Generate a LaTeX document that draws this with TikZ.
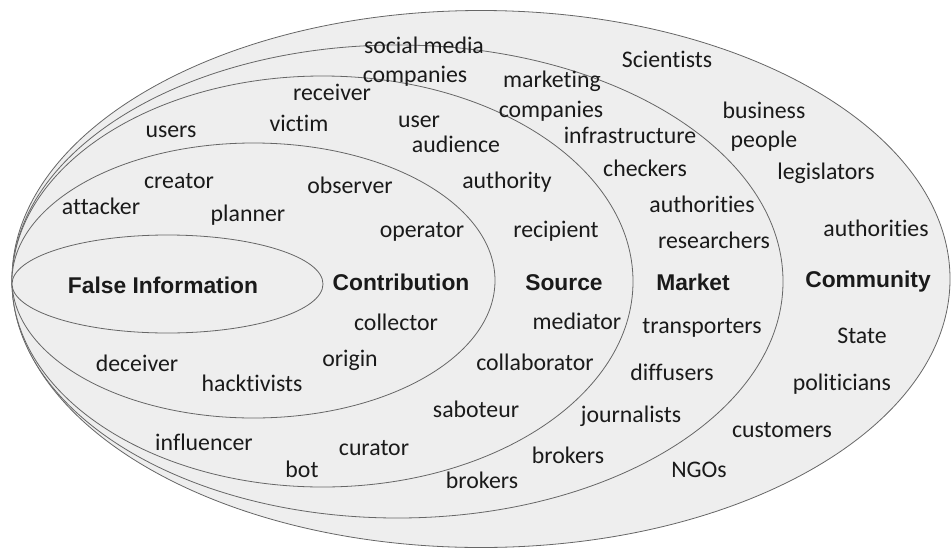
\documentclass[tikz,border=0pt]{standalone}
\usepackage{fontspec}
\setmainfont{Carlito}[Ligatures={NoCommon}]
\newfontfamily\labfont{Liberation Sans}
\definecolor{ringfill}{HTML}{EEEEEE}
\definecolor{ringline}{HTML}{666666}
\definecolor{txt}{HTML}{1A1A1A}
\begin{document}
\begin{tikzpicture}[x=1pt,y=-1pt,
  ring/.style={draw=ringline,fill=ringfill,line width=0.8pt},
  word/.style={anchor=base,inner sep=0pt,text=txt,font=\fontsize{23.8}{28}\selectfont},
  cat/.style={anchor=base,inner sep=0pt,text=txt,font=\labfont\bfseries\fontsize{22.8}{27}\selectfont}]
\useasboundingbox (0,0) rectangle (952,549);
% rings
\draw[ring] (481,279) ellipse [x radius=469, y radius=268.5];
\draw[ring] (397.5,281.5) ellipse [x radius=385.5, y radius=236.5];
\draw[ring] (322.5,281.5) ellipse [x radius=310.5, y radius=205.5];
\draw[ring] (253.5,280.5) ellipse [x radius=241.5, y radius=137.5];
\draw[ring] (167.5,284) ellipse [x radius=155.5, y radius=49];
% category labels
\node[cat] (fi) at (163,293) {False Information};
\node[cat] (contrib) at (401,290) {Contribution};
\node[cat] (source) at (564,290) {Source};
\node[cat] (market) at (693,290) {Market};
\node[cat] (community) at (868,287) {Community};
% contribution
\node[word] (attacker) at (101,214) {attacker};
\node[word] (creator) at (179,188) {creator};
\node[word] (planner) at (248,221) {planner};
\node[word] (observer) at (350,193) {observer};
\node[word] (operator) at (422,237) {operator};
\node[word] (collector) at (396,330) {collector};
\node[word] (origin) at (350,366) {origin};
\node[word] (deceiver) at (137,371) {deceiver};
\node[word] (hacktivists) at (252,391) {hacktivists};
% source
\node[word] (users) at (171,137) {users};
\node[word] (victim) at (299,131) {victim};
\node[word] (receiver) at (332,100) {receiver};
\node[word] (user) at (419,127) {user};
\node[word] (audience) at (456,152) {audience};
\node[word] (authority) at (507,188) {authority};
\node[word] (recipient) at (556,237) {recipient};
\node[word] (mediator) at (577,329) {mediator};
\node[word] (collaborator) at (535,370) {collaborator};
\node[word] (saboteur) at (476,417) {saboteur};
\node[word] (influencer) at (204,450) {influencer};
\node[word] (curator) at (374,455) {curator};
\node[word] (bot) at (302,477) {bot};
% market
\node[word] (smedia) at (424,53) {social media};
\node[word] (scomp) at (415,82) {companies};
\node[word] (marketing) at (552,87) {marketing};
\node[word] (mcomp) at (551,117) {companies};
\node[word] (infra) at (630,143) {infrastructure};
\node[word] (checkers) at (645,176) {checkers};
\node[word] (mauth) at (702,212) {authorities};
\node[word] (researchers) at (714,248) {researchers};
\node[word] (transporters) at (702,333) {transporters};
\node[word] (diffusers) at (672,380) {diffusers};
\node[word] (journalists) at (631,422) {journalists};
\node[word] (mbrokers) at (568,463) {brokers};
\node[word] (sbrokers) at (482,488) {brokers};
% community
\node[word] (scientists) at (667,67) {Scientists};
\node[word] (business) at (764,118) {business};
\node[word] (people) at (764,147) {people};
\node[word] (legislators) at (826,179) {legislators};
\node[word] (cauth) at (876,236) {authorities};
\node[word] (state) at (862,343) {State};
\node[word] (politicians) at (842,390) {politicians};
\node[word] (customers) at (782,437) {customers};
\node[word] (ngos) at (699,477) {NGOs};
\end{tikzpicture}
\end{document}
